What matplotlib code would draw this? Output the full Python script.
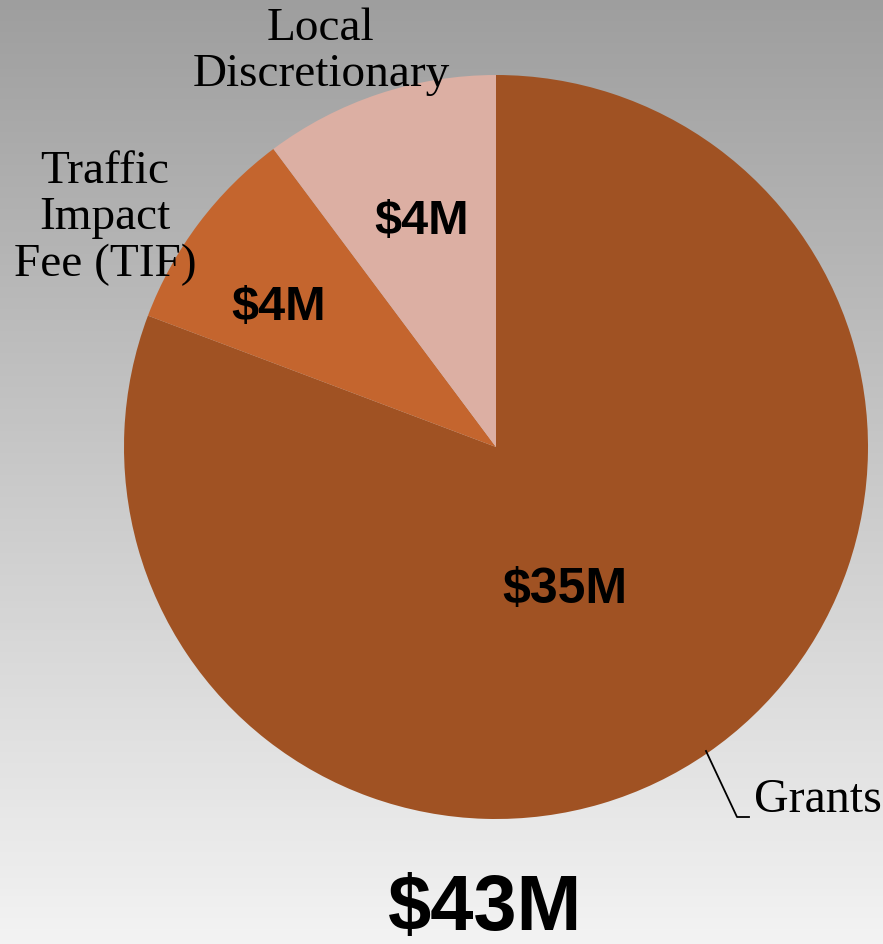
import numpy as np
import matplotlib.pyplot as plt

# funding sources ($M) -- clockwise from 12 o'clock
sources = ['Grants', 'Traffic\nImpact\nFee (TIF)', 'Local\nDiscretionary']
values = [34.8, 3.9, 4.4]
value_labels = ['$35M', '$4M', '$4M']
colors = ['#A05223', '#C4652E', '#DCAFA3']
total_label = '$43M'

W, H = 883, 945
fig = plt.figure(figsize=(W / 100, H / 100), dpi=100)
ax = fig.add_axes([0, 0, 1, 1])

# grey gradient background
grad = np.linspace(0, 1, 256).reshape(-1, 1)
ax.imshow(grad, extent=[0, W, 0, H], cmap=plt.cm.colors.LinearSegmentedColormap.from_list(
    'bg', ['#F3F3F3', '#9E9E9E']), aspect='auto', origin='lower', zorder=0)

cx, cy, r = 496, H - 448, 372
wedges, _ = ax.pie(values, colors=colors, startangle=90, counterclock=False,
                   center=(cx, cy), radius=r, frame=True,
                   wedgeprops=dict(linewidth=0, zorder=2))
ax.set_xlim(0, W)
ax.set_ylim(0, H)
ax.axis('off')

sans = 'Liberation Sans'
serif = 'Liberation Serif'

# values inside the slices
ax.text(565, H - 590, value_labels[0], fontsize=36, fontweight='bold', family=sans,
        ha='center', va='center', zorder=3)
ax.text(279, H - 308, value_labels[1], fontsize=35, fontweight='bold', family=sans,
        ha='center', va='center', zorder=3)
ax.text(422, H - 222, value_labels[2], fontsize=35, fontweight='bold', family=sans,
        ha='center', va='center', zorder=3)

# category labels
ax.text(321, H - 52, sources[2], fontsize=34, family=serif, ha='center', va='center',
        linespacing=1.12, zorder=4)
ax.text(105, H - 218, sources[1], fontsize=34, family=serif, ha='center', va='center',
        linespacing=1.12, zorder=4)
ax.text(754, H - 800, sources[0], fontsize=34.5, family=serif, ha='left', va='center', zorder=4)
ax.plot([706, 737, 749], [H - 752, H - 818, H - 818], color='black', lw=1.3, zorder=4)

ax.text(485, H - 910, total_label, fontsize=56, fontweight='bold', family=sans,
        ha='center', va='center', zorder=4)

fig.savefig('out.png', dpi=100)
